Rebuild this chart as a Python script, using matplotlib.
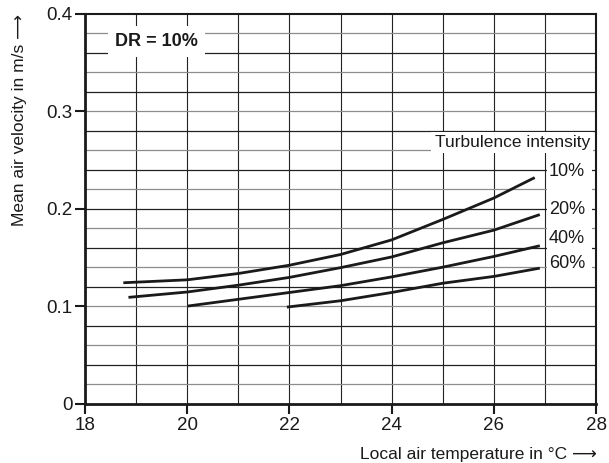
import numpy as np
import matplotlib.pyplot as plt
from matplotlib.patches import Rectangle

plt.rcParams['font.family'] = ['Liberation Sans', 'DejaVu Sans']

# Comfort curves for draught rate DR = 10 %
t_10 = [18.75, 20, 21, 22, 23, 24, 25, 26, 26.8]
v_10 = [0.124, 0.127, 0.1335, 0.142, 0.153, 0.168, 0.189, 0.211, 0.232]
t_20 = [18.85, 20, 21, 22, 23, 24, 25, 26, 26.9]
v_20 = [0.109, 0.1145, 0.1215, 0.1295, 0.1395, 0.1505, 0.165, 0.178, 0.194]
t_40 = [20, 21, 22, 23, 24, 25, 26, 26.9]
v_40 = [0.100, 0.107, 0.114, 0.121, 0.130, 0.140, 0.151, 0.162]
t_60 = [21.95, 23, 24, 25, 26, 26.9]
v_60 = [0.099, 0.1055, 0.114, 0.1235, 0.1305, 0.139]

labels = ['10%', '20%', '40%', '60%']
label_y = [0.238, 0.199, 0.169, 0.144]

fig = plt.figure(figsize=(6.09, 4.63), dpi=100)
ax = fig.add_axes([0.1396, 0.1285, 0.8391, 0.8413])
ax.set_xlim(18, 28)
ax.set_ylim(0, 0.4)

# grid
for x in range(19, 28):
    ax.axvline(x, color='#222222', lw=0.8, zorder=1)
for k in range(1, 20):
    ax.axhline(0.02 * k, color='#222222' if k % 2 == 0 else '#8c8c8c',
               lw=0.9, zorder=1)

for t, v in [(t_10, v_10), (t_20, v_20), (t_40, v_40), (t_60, v_60)]:
    ax.plot(t, v, color='#1a1a1a', lw=2.0, solid_capstyle='butt', zorder=3)

# label column on the right
ax.add_patch(Rectangle((27.05, 0.132), 0.88, 0.122, facecolor='white',
                       edgecolor='none', zorder=2))
for lab, y in zip(labels, label_y):
    ax.text(27.08, y, lab, fontsize=13, ha='left', va='center', zorder=4,
            color='#1a1a1a')

ax.text(27.88, 0.268, 'Turbulence intensity', fontsize=12.5, ha='right',
        va='center', zorder=4, color='#1a1a1a',
        bbox=dict(facecolor='white', edgecolor='none', pad=2.5))
ax.text(19.4, 0.3715, 'DR = 10%', fontsize=13, fontweight='bold',
        ha='center', va='center', zorder=4, color='#1a1a1a',
        bbox=dict(facecolor='white', edgecolor='none', pad=5))

ax.set_xticks([18, 20, 22, 24, 26, 28])
ax.set_yticks([0, 0.1, 0.2, 0.3, 0.4])
ax.set_yticklabels(['0', '0.1', '0.2', '0.3', '0.4'])
ax.tick_params(axis='both', direction='out', labelsize=13.5, width=1.5,
               color='#1a1a1a', labelcolor='#1a1a1a')
ax.tick_params(axis='y', length=7, pad=2)
ax.tick_params(axis='x', length=7, pad=3)

for side in ['left', 'bottom']:
    ax.spines[side].set_linewidth(2.0)
for side in ['top', 'right']:
    ax.spines[side].set_linewidth(1.5)
for s in ax.spines.values():
    s.set_color('#1a1a1a')
    s.set_zorder(5)

fig.text(20 / 609, 1 - 14 / 463, 'Mean air velocity in m/s \u27f6',
         rotation=90, ha='center', va='top', fontsize=12.5, color='#1a1a1a',
         family=['Liberation Sans', 'DejaVu Sans'])
fig.text(597 / 609, 1 - 454 / 463, 'Local air temperature in \u00b0C \u27f6',
         ha='right', va='center', fontsize=12.5, color='#1a1a1a',
         family=['Liberation Sans', 'DejaVu Sans'])

fig.savefig('out.png', dpi=100)
